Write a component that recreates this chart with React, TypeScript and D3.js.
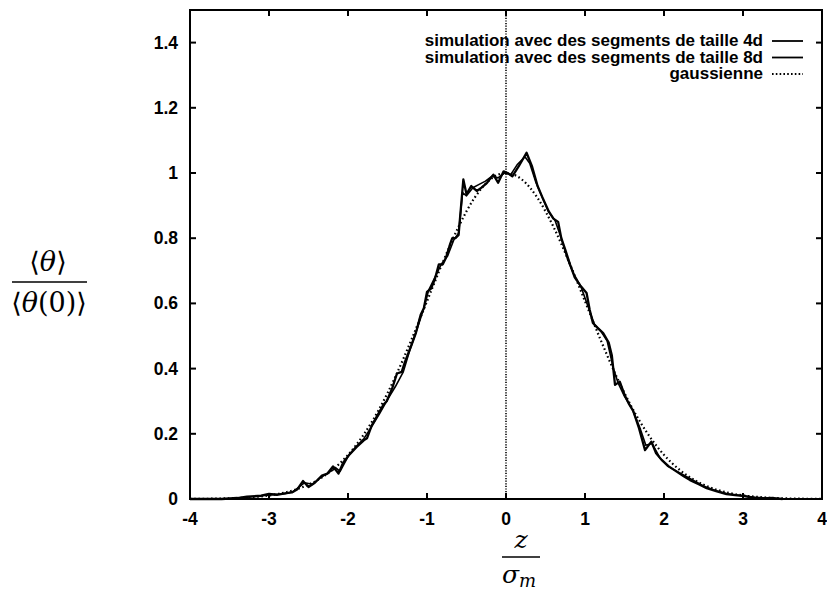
import React from "react";
import * as d3 from "d3";

// ---- data ----
const sim4dZ = [-4.0, -3.6, -3.4, -3.28, -3.1, -3.0, -2.9, -2.8, -2.71, -2.64, -2.57, -2.5, -2.42, -2.33, -2.26, -2.19, -2.12, -2.06, -1.98, -1.89, -1.8, -1.76, -1.7, -1.62, -1.55, -1.51, -1.44, -1.38, -1.32, -1.28, -1.2, -1.14, -1.08, -1.04, -1.0, -0.95, -0.9, -0.85, -0.8, -0.76, -0.71, -0.68, -0.64, -0.6, -0.54, -0.5, -0.44, -0.37, -0.31, -0.24, -0.16, -0.1, -0.03, 0.02, 0.08, 0.16, 0.26, 0.33, 0.4, 0.47, 0.54, 0.6, 0.66, 0.7, 0.75, 0.81, 0.87, 0.94, 1.02, 1.06, 1.1, 1.16, 1.23, 1.3, 1.34, 1.38, 1.44, 1.5, 1.56, 1.61, 1.68, 1.76, 1.84, 1.9, 1.97, 2.06, 2.16, 2.25, 2.33, 2.44, 2.54, 2.66, 2.79, 2.9, 3.02, 3.12, 3.25, 3.38, 3.5];
const sim4dV = [0, 0, 0.003, 0.007, 0.01, 0.016, 0.013, 0.017, 0.02, 0.03, 0.055, 0.037, 0.05, 0.072, 0.078, 0.1, 0.078, 0.112, 0.137, 0.16, 0.18, 0.186, 0.225, 0.26, 0.29, 0.3, 0.34, 0.385, 0.39, 0.42, 0.47, 0.51, 0.565, 0.585, 0.635, 0.645, 0.675, 0.72, 0.72, 0.74, 0.78, 0.8, 0.8, 0.81, 0.98, 0.935, 0.96, 0.945, 0.955, 0.97, 0.995, 0.97, 1.005, 1.0, 0.99, 1.02, 1.062, 1.02, 0.96, 0.92, 0.883, 0.86, 0.85, 0.8, 0.765, 0.72, 0.68, 0.655, 0.632, 0.58, 0.54, 0.525, 0.509, 0.48, 0.44, 0.35, 0.36, 0.32, 0.29, 0.27, 0.22, 0.15, 0.176, 0.14, 0.12, 0.1, 0.084, 0.07, 0.058, 0.045, 0.033, 0.024, 0.015, 0.012, 0.009, 0.004, 0.002, 0.003, 0];

const sim8dZ = [-4.0, -3.5, -3.3, -3.1, -2.95, -2.8, -2.7, -2.6, -2.55, -2.45, -2.35, -2.25, -2.15, -2.1, -2.0, -1.9, -1.8, -1.7, -1.6, -1.5, -1.4, -1.3, -1.22, -1.12, -1.04, -0.98, -0.9, -0.82, -0.74, -0.66, -0.6, -0.55, -0.5, -0.42, -0.34, -0.26, -0.18, -0.1, -0.02, 0.06, 0.14, 0.24, 0.3, 0.38, 0.46, 0.54, 0.62, 0.7, 0.78, 0.86, 0.95, 1.04, 1.12, 1.2, 1.28, 1.36, 1.42, 1.5, 1.6, 1.7, 1.77, 1.85, 1.95, 2.05, 2.2, 2.35, 2.5, 2.65, 2.8, 3.0, 3.15, 3.3, 3.5];
const sim8dV = [0, 0, 0.005, 0.01, 0.013, 0.016, 0.022, 0.04, 0.05, 0.045, 0.065, 0.08, 0.095, 0.085, 0.13, 0.16, 0.185, 0.222, 0.262, 0.305, 0.345, 0.39, 0.455, 0.525, 0.585, 0.64, 0.68, 0.72, 0.745, 0.795, 0.815, 0.94, 0.93, 0.955, 0.965, 0.975, 0.99, 0.985, 1.0, 0.995, 1.025, 1.05, 1.03, 0.97, 0.925, 0.88, 0.855, 0.8, 0.735, 0.69, 0.65, 0.59, 0.535, 0.515, 0.485, 0.4, 0.355, 0.315, 0.275, 0.215, 0.165, 0.17, 0.125, 0.1, 0.08, 0.06, 0.04, 0.026, 0.016, 0.01, 0.005, 0.003, 0];

const gaussZ = [-4.0, -3.8, -3.6, -3.4, -3.2, -3.0, -2.8, -2.6, -2.4, -2.2, -2.0, -1.8, -1.6, -1.4, -1.2, -1.0, -0.8, -0.6, -0.4, -0.2, 0.0, 0.2, 0.4, 0.6, 0.8, 1.0, 1.2, 1.4, 1.6, 1.8, 2.0, 2.2, 2.4, 2.6, 2.8, 3.0, 3.2, 3.4, 3.6, 3.8, 4.0];
const gaussV = [0.0003, 0.0007, 0.0015, 0.0031, 0.006, 0.011, 0.0198, 0.034, 0.0561, 0.0889, 0.1353, 0.1979, 0.278, 0.3753, 0.4868, 0.6065, 0.7261, 0.8353, 0.9231, 0.9802, 1.0, 0.9802, 0.9231, 0.8353, 0.7261, 0.6065, 0.4868, 0.3753, 0.278, 0.1979, 0.1353, 0.0889, 0.0561, 0.034, 0.0198, 0.011, 0.006, 0.0031, 0.0015, 0.0007, 0.0003];

const xTicks = [-4, -3, -2, -1, 0, 1, 2, 3, 4];
const yTicks = [0, 0.2, 0.4, 0.6, 0.8, 1, 1.2, 1.4];
const legendLabels = [
  "simulation avec des segments de taille 4d",
  "simulation avec des segments de taille 8d",
  "gaussienne",
];

// ---- layout ----
const W = 827;
const H = 591;
const left = 190;
const right = 822;
const top = 10;
const bottom = 499;

export default function App() {
  const x = d3.scaleLinear().domain([-4, 4]).range([left, right]);
  const y = d3.scaleLinear().domain([0, 1.5]).range([bottom, top]);

  const line = d3
    .line<[number, number]>()
    .x((d) => x(d[0]))
    .y((d) => y(d[1]));
  const smooth = d3
    .line<[number, number]>()
    .x((d) => x(d[0]))
    .y((d) => y(d[1]))
    .curve(d3.curveMonotoneX);

  const s4 = sim4dZ.map((z, i) => [z, sim4dV[i]] as [number, number]);
  const s8 = sim8dZ.map((z, i) => [z, sim8dV[i]] as [number, number]);
  const g = gaussZ.map((z, i) => [z, gaussV[i]] as [number, number]);

  const fmt = (v: number) => (v === 0 || v === 1 ? String(v) : v.toFixed(1));
  const tickLen = 6;
  const font = "'Liberation Sans', Arial, Helvetica, sans-serif";
  const serif = "'DejaVu Serif', 'Liberation Serif', serif";

  const legX = 763;
  const legY = [46, 62.5, 79];

  return (
    <svg
      width={W}
      height={H}
      style={{ position: "absolute", left: 0, top: 0, background: "#fff" }}
    >
      <rect x={0} y={0} width={W} height={H} fill="#fff" />
      {/* zero vertical dotted line */}
      <line
        x1={x(0)}
        x2={x(0)}
        y1={top}
        y2={bottom}
        stroke="#000"
        strokeWidth={1.6}
        strokeDasharray="1.2,1.4"
      />
      {/* ticks */}
      {xTicks.map((t) => (
        <g key={"xt" + t}>
          <line x1={x(t)} x2={x(t)} y1={bottom} y2={bottom - tickLen} stroke="#000" strokeWidth={2} />
          <line x1={x(t)} x2={x(t)} y1={top} y2={top + tickLen} stroke="#000" strokeWidth={2} />
          <text
            x={x(t)}
            y={525}
            textAnchor="middle"
            fontFamily={font}
            fontWeight="bold"
            fontSize={17.5}
          >
            {t}
          </text>
        </g>
      ))}
      {yTicks.map((t) => (
        <g key={"yt" + t}>
          <line x1={left} x2={left + tickLen} y1={y(t)} y2={y(t)} stroke="#000" strokeWidth={2} />
          <line x1={right} x2={right - tickLen} y1={y(t)} y2={y(t)} stroke="#000" strokeWidth={2} />
          <text
            x={178}
            y={y(t) + 6}
            textAnchor="end"
            fontFamily={font}
            fontWeight="bold"
            fontSize={17.5}
          >
            {fmt(t)}
          </text>
        </g>
      ))}
      {/* gaussian */}
      <path
        d={smooth(g) || ""}
        fill="none"
        stroke="#000"
        strokeWidth={2.2}
        strokeDasharray="1.6,2.6"
      />
      {/* simulations */}
      <path d={line(s8) || ""} fill="none" stroke="#000" strokeWidth={1.6} strokeLinejoin="round" />
      <path d={line(s4) || ""} fill="none" stroke="#000" strokeWidth={2.3} strokeLinejoin="round" />
      {/* frame */}
      <rect
        x={left}
        y={top}
        width={right - left}
        height={bottom - top}
        fill="none"
        stroke="#000"
        strokeWidth={2}
      />
      {/* legend */}
      {legendLabels.map((lab, i) => (
        <g key={lab}>
          <text
            x={legX}
            y={legY[i]}
            textAnchor="end"
            fontFamily={font}
            fontWeight="bold"
            fontSize={17}
          >
            {lab}
          </text>
          <line
            x1={772}
            x2={803}
            y1={legY[i] - 5}
            y2={legY[i] - 5}
            stroke="#000"
            strokeWidth={i === 2 ? 2 : 1.8}
            strokeDasharray={i === 2 ? "1.6,2.2" : undefined}
          />
        </g>
      ))}
      {/* y label */}
      <g fontFamily={serif} fontSize={27}>
        <text x={48} y={271} textAnchor="middle">
          <tspan>⟨</tspan>
          <tspan fontStyle="italic">θ</tspan>
          <tspan>⟩</tspan>
        </text>
        <line x1={12} x2={87} y1={282} y2={282} stroke="#000" strokeWidth={1.4} />
        <text x={49} y={312} textAnchor="middle">
          <tspan>⟨</tspan>
          <tspan fontStyle="italic">θ</tspan>
          <tspan>(0)⟩</tspan>
        </text>
      </g>
      {/* x label */}
      <g fontFamily={serif} fontSize={25}>
        <text x={521} y={548} textAnchor="middle" fontStyle="italic">
          z
        </text>
        <line x1={502} x2={540} y1={557} y2={557} stroke="#000" strokeWidth={1.4} />
        <text x={519} y={583} textAnchor="middle" fontStyle="italic">
          σ
          <tspan fontSize={18} dy={4}>
            m
          </tspan>
        </text>
      </g>
    </svg>
  );
}
